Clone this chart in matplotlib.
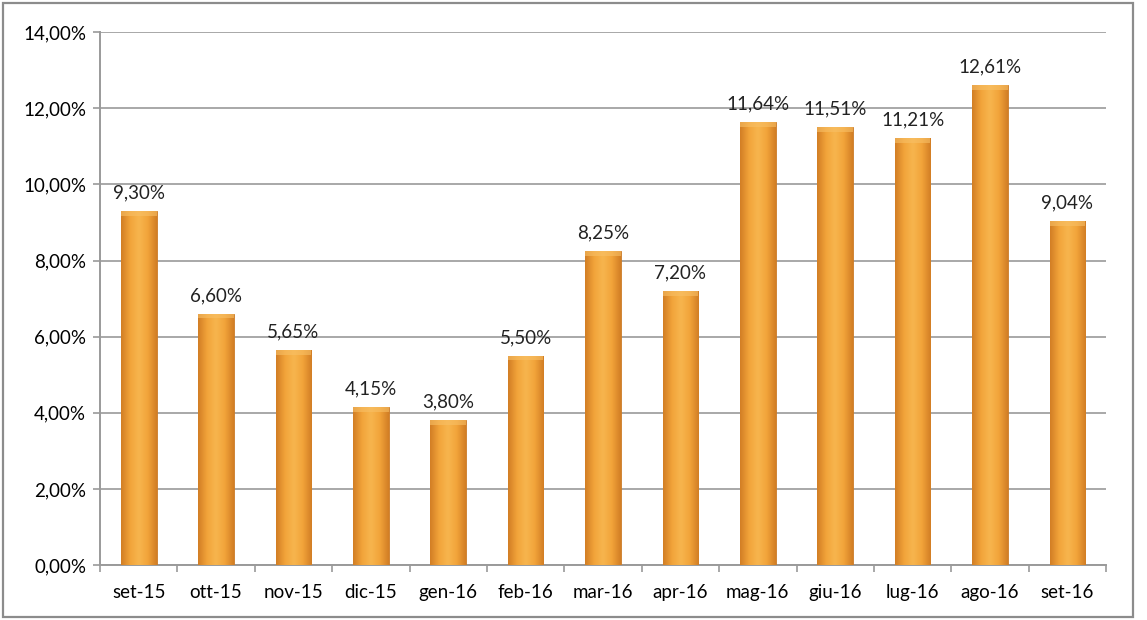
import numpy as np
import matplotlib.pyplot as plt
from matplotlib.patches import Rectangle
from matplotlib.colors import LinearSegmentedColormap

months = ["set-15", "ott-15", "nov-15", "dic-15", "gen-16", "feb-16", "mar-16",
          "apr-16", "mag-16", "giu-16", "lug-16", "ago-16", "set-16"]
rates = [9.30, 6.60, 5.65, 4.15, 3.80, 5.50, 8.25, 7.20, 11.64, 11.51, 11.21, 12.61, 9.04]
yticks = [0, 2, 4, 6, 8, 10, 12, 14]

plt.rcParams['font.family'] = ['Lato', 'DejaVu Sans']
fs = 13.5

fig = plt.figure(figsize=(11.47, 6.2), dpi=100)
ax = fig.add_axes([0.0872, 0.0887, 0.8771, 0.8593])

# outer frame around the whole chart
fig.patches.append(Rectangle((0.003, 0.005), 0.985, 0.99, transform=fig.transFigure,
                             fill=False, edgecolor="#8c8c8c", linewidth=1.6))

x = np.arange(len(months))
bw = 0.46
bars = ax.bar(x, rates, width=bw, color="#F0A035", edgecolor="#C97A28",
              linewidth=0.6, zorder=3)

# horizontal shading on each bar: darker edges, lighter middle
cmap = LinearSegmentedColormap.from_list("bar", ["#D27E25", "#F2A43A", "#F7B54E",
                                                 "#F2A43A", "#D27E25"])
grad = np.linspace(0, 1, 64).reshape(1, -1)
for b in bars:
    x0, w, h = b.get_x(), b.get_width(), b.get_height()
    im = ax.imshow(grad, cmap=cmap, aspect="auto", extent=[x0, x0 + w, 0, h],
                   zorder=3.5, interpolation="bicubic")
    im.set_clip_path(b)
    # lighter cap on top of the bar
    ax.add_patch(Rectangle((x0, h - 0.12), w, 0.12, facecolor="#F8C066",
                           edgecolor="none", alpha=0.6, zorder=3.6))

for xi, v in zip(x, rates):
    ax.annotate(f"{v:.2f}%".replace(".", ","), (xi, v), xytext=(0, 7),
                textcoords="offset points", ha="center", va="bottom",
                fontsize=fs, color="#222222")

ax.set_xlim(-0.5, len(months) - 0.5)
ax.set_ylim(0, 14)
ax.set_yticks(yticks)
ax.set_yticklabels([f"{t:.2f}%".replace(".", ",") for t in yticks], fontsize=fs)
ax.set_xticks(x)
ax.set_xticklabels(months, fontsize=fs)
ax.set_xticks(np.arange(-0.5, len(months)), minor=True)
ax.tick_params(axis="x", which="major", length=0, pad=14)
ax.tick_params(axis="x", which="minor", length=5, color="#999999", width=1.2)
ax.tick_params(axis="y", length=5, color="#999999", width=1.2, pad=5)

ax.grid(axis="y", color="#9a9a9a", linewidth=1.2, zorder=0)
ax.set_axisbelow(True)
for s in ["top", "right"]:
    ax.spines[s].set_visible(False)
for s in ["left", "bottom"]:
    ax.spines[s].set_color("#9a9a9a")
    ax.spines[s].set_linewidth(1.4)

fig.savefig("out.png", dpi=100)
